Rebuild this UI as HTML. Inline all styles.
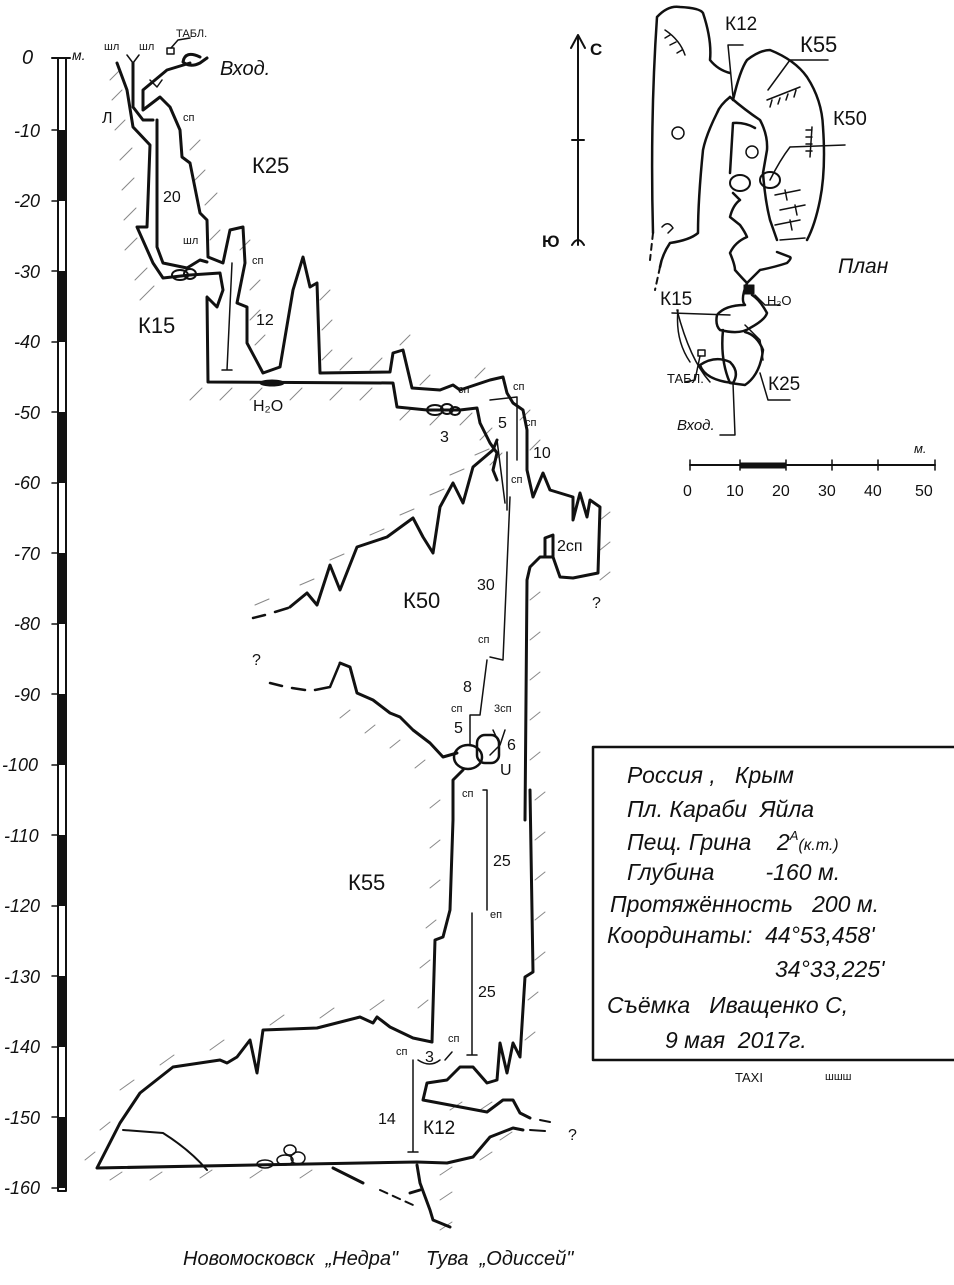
<!DOCTYPE html>
<html><head><meta charset="utf-8"><style>
html,body{margin:0;padding:0;background:#fff}
svg{display:block}
text{font-family:"Liberation Sans",sans-serif;fill:#111;white-space:pre}
.i{font-style:italic}
</style></head><body>
<svg width="954" height="1285" viewBox="0 0 954 1285" xmlns="http://www.w3.org/2000/svg" xml:space="preserve">
<g fill="none" stroke="#111" stroke-linejoin="round" stroke-linecap="round">
<!-- depth scale -->
<rect x="58" y="58" width="8" height="1133" fill="#fff" stroke-width="2"/>
<g fill="#111" stroke="none">
<rect x="58" y="130" width="8" height="71"/><rect x="58" y="271" width="8" height="71"/>
<rect x="58" y="412" width="8" height="71"/><rect x="58" y="553" width="8" height="71"/>
<rect x="58" y="694" width="8" height="71"/><rect x="58" y="835" width="8" height="71"/>
<rect x="58" y="976" width="8" height="71"/><rect x="58" y="1117" width="8" height="71"/>
</g>
<line x1="52" y1="58" x2="70" y2="58" stroke-width="2"/>
<g stroke-width="1.5">
<line x1="52" y1="130" x2="58" y2="130"/><line x1="52" y1="201" x2="58" y2="201"/><line x1="52" y1="271" x2="58" y2="271"/><line x1="52" y1="342" x2="58" y2="342"/><line x1="52" y1="412" x2="58" y2="412"/><line x1="52" y1="483" x2="58" y2="483"/><line x1="52" y1="553" x2="58" y2="553"/><line x1="52" y1="624" x2="58" y2="624"/><line x1="52" y1="694" x2="58" y2="694"/><line x1="52" y1="765" x2="58" y2="765"/><line x1="52" y1="835" x2="58" y2="835"/><line x1="52" y1="906" x2="58" y2="906"/><line x1="52" y1="976" x2="58" y2="976"/><line x1="52" y1="1047" x2="58" y2="1047"/><line x1="52" y1="1117" x2="58" y2="1117"/><line x1="52" y1="1188" x2="58" y2="1188"/>
</g>

<!-- hatching -->
<g stroke="#888" stroke-width="1">
<path d="M110,80 l10,-10 M112,100 l10,-10 M115,130 l10,-10 M120,160 l12,-12 M122,190 l12,-12 M124,220 l12,-12 M125,250 l12,-12 M135,280 l12,-12 M140,300 l14,-14"/>
<path d="M190,150 l10,-10 M195,180 l10,-10 M205,205 l12,-12 M210,240 l10,-10 M240,250 l10,-10 M250,290 l10,-10 M250,320 l10,-10 M255,345 l10,-10 M320,300 l10,-10 M322,330 l10,-10 M322,360 l10,-10 M340,370 l12,-12 M370,370 l12,-12 M400,345 l10,-10 M420,385 l10,-10 M475,378 l10,-10 M520,420 l10,-10 M530,450 l10,-10"/>
<path d="M190,400 l12,-12 M220,400 l12,-12 M250,400 l12,-12 M290,400 l12,-12 M330,400 l12,-12 M360,400 l12,-12 M400,420 l12,-12 M430,425 l12,-12 M460,425 l12,-12 M480,440 l12,-12 M490,465 l12,-12"/>
<path d="M255,605 l14,-6 M300,585 l14,-6 M330,560 l14,-6 M370,535 l14,-6 M400,515 l14,-6 M430,495 l14,-6 M450,475 l14,-6 M475,455 l14,-6"/>
<path d="M530,600 l10,-8 M530,640 l10,-8 M530,680 l10,-8 M530,720 l10,-8 M530,760 l10,-8 M535,800 l10,-8 M535,840 l10,-8 M535,880 l10,-8 M535,920 l10,-8 M535,960 l10,-8 M528,1000 l10,-8 M525,1040 l10,-8 M600,520 l10,-8 M600,550 l10,-8 M600,580 l10,-8"/>
<path d="M350,710 l-10,8 M375,725 l-10,8 M400,740 l-10,8 M425,760 l-10,8 M440,800 l-10,8 M440,840 l-10,8 M440,880 l-10,8 M436,920 l-10,8 M430,960 l-10,8 M428,1000 l-10,8"/>
<path d="M120,1090 l14,-10 M160,1065 l14,-10 M210,1050 l14,-10 M270,1025 l14,-10 M320,1018 l14,-10 M370,1010 l14,-10 M100,1130 l10,-8 M85,1160 l10,-8 M110,1180 l12,-8 M150,1180 l12,-8 M200,1178 l12,-8 M250,1178 l12,-8 M300,1178 l12,-8 M440,1175 l12,-8 M480,1160 l12,-8 M500,1140 l12,-8 M440,1200 l12,-8 M440,1230 l12,-8 M450,1110 l12,-8 M480,1110 l12,-8"/>
</g>

<!-- upper section -->
<g stroke-width="3">
<path d="M117,63 L127,90 L133,127 L150,145 L147,227 L137,227 L153,263 L163,278 L190,275 L220,273 L223,290 L217,307 L207,297 L208,382 L393,383 L397,407 L427,410 L460,410 L477,408 L480,423 L490,443 L497,453 L493,470 L497,480"/>
<path d="M200,57 Q185,50 183,62 Q190,68 200,63 L207,58 M190,63 L167,70 L143,90 L143,110 L160,97 L170,107 L180,130 L182,157 L190,163 L200,213 L207,220 L208,257 L223,263 L230,230 L243,227 L245,263 L237,303 L247,307 L247,343 L263,373 L280,367 L293,290 L303,257 L310,287 L317,283 L320,373 L390,372 L393,353 L403,350 L412,388 L440,390 L453,385 L460,390 L490,380 L503,377 L507,393 L513,403 L523,410 L527,430 L527,457"/>
<path d="M133,63 L133,107 L143,120 L153,120 M157,120 L157,247 L163,263 L187,268 L200,260 L207,262"/>
</g>
<ellipse cx="180" cy="275" rx="8" ry="5" stroke-width="2"/><ellipse cx="190" cy="274" rx="6" ry="5" stroke-width="2"/>
<ellipse cx="272" cy="383" rx="12" ry="3" fill="#111"/>
<ellipse cx="435" cy="410" rx="8" ry="5" stroke-width="2"/><ellipse cx="447" cy="409" rx="6" ry="5" stroke-width="2"/><ellipse cx="455" cy="411" rx="5" ry="4" stroke-width="2"/>
<g stroke-width="1.5">
<path d="M232,263 L227,370 M222,370 L232,370"/>
<path d="M133,63 L127,55 M133,63 L139,55 M157,87 L150,80 M157,87 L162,80"/>
<rect x="167" y="48" width="7" height="6"/><path d="M171,48 L178,40 L190,38"/>
<path d="M490,400 L517,397 L517,460 M507,452 L507,510"/>
<path d="M497,440 L505,503 M510,497 L503,660 L490,657"/>
</g>

<!-- K50 -->
<g stroke-width="3">
<path d="M290,607 L307,593 L317,605 L330,565 L340,590 L357,547 L387,537 L413,518 L423,537 L433,553 L440,507 L453,483 L463,503 L473,467 L493,450 L497,440"/>
<path d="M253,618 L265,615 M275,612 L288,608" stroke-width="2.5"/>
<path d="M527,440 L527,470 L533,497 L543,473 L550,490 L573,497 L573,520 L580,493 L587,517 L590,500 L600,507 L598,573 L573,578 L560,577 L553,557 L540,557 L530,567 L527,580 L525,820"/>
<path d="M545,557 L545,538 L553,535 L553,557"/>
<path d="M340,663 L350,667 L357,693 L373,700 L390,713 L400,717 L413,730 L430,743 L443,757 L457,753"/>
<path d="M330,687 L340,663 M270,683 L282,686 M292,688 L305,690 M315,690 L330,687" stroke-width="2.5"/>
<path d="M463,770 L453,780 L453,820 L450,910 L443,937 L435,940 L432,1042"/>
</g>
<ellipse cx="468" cy="757" rx="14" ry="12" stroke-width="2.5"/>
<rect x="477" y="735" width="22" height="28" rx="8" stroke-width="2.5"/>
<g stroke-width="1.5">
<path d="M470,745 L470,715 L480,715 M480,715 L487,660"/>
<path d="M493,730 L500,745 L490,755 M500,745 L505,730"/>
<path d="M483,790 L487,790 L487,910 M472,913 L472,1055 M467,1055 L477,1055"/>
</g>

<!-- K55 bottom -->
<g stroke-width="3">
<path d="M530,790 L533,972 L525,977 L520,1057 L513,1043 L507,1073 L500,1043 L497,1080 L487,1083 L473,1067 L460,1067 L447,1080 L427,1083 L423,1100 L487,1112 L503,1100 L513,1100 L520,1113 L530,1118"/>
<path d="M432,1042 L413,1038 L390,1027 L377,1017 L373,1023 L360,1017 L317,1028 L263,1030 L257,1073 L250,1040 L237,1057 L227,1063 L220,1060 L173,1067 L140,1093 L120,1123 L97,1168 L417,1162 L447,1163 L473,1157 L490,1137 L513,1128 L523,1130"/>
<path d="M333,1168 L363,1183 M417,1165 L420,1183 L430,1210 L433,1220 L450,1227 M410,1193 L420,1190"/>
</g>
<path d="M380,1190 L413,1205" stroke-width="2" stroke-dasharray="8,6"/>
<path d="M530,1130 L545,1131 M540,1120 L550,1122" stroke-width="2"/>
<path d="M123,1130 L163,1133 Q190,1150 207,1170" stroke-width="2"/>
<g stroke-width="1.5">
<ellipse cx="265" cy="1164" rx="8" ry="4"/><ellipse cx="285" cy="1160" rx="8" ry="5"/><ellipse cx="298" cy="1158" rx="7" ry="6"/><ellipse cx="290" cy="1150" rx="6" ry="5"/>
<path d="M413,1060 L413,1152 M408,1152 L418,1152"/>
<path d="M418,1060 Q430,1068 440,1060 M445,1060 L452,1052"/>
</g>

<!-- north arrow -->
<path d="M578,35 L578,245 M572,140 L584,140 M571,48 L578,35 L585,48 M572,245 Q578,235 584,245" stroke-width="2"/>

<!-- plan -->
<g stroke-width="2.5">
<path d="M653,233 Q650,120 657,17 Q668,5 680,7 Q700,8 703,13 Q712,40 710,60 Q718,70 730,73"/>
<path d="M730,97 Q720,105 717,113 Q706,135 703,150 Q698,200 698,233 Q690,240 670,243 Q662,255 660,267"/>
<path d="M733,100 Q740,70 747,60 Q760,50 770,50 Q795,60 807,77 Q822,100 823,127 Q826,170 820,200 Q815,225 807,240"/>
<path d="M730,97 Q745,110 760,120 Q768,135 767,150 L763,173 Q765,200 770,220 L777,240 M730,173 L733,123 Q745,122 755,128"/>
<path d="M733,193 L740,200 Q733,205 730,217 L740,225 Q745,232 747,237 Q735,242 730,253 Q735,265 735,270 Q742,278 747,283 L760,270 Q775,267 787,263 Q792,258 790,257 L777,252"/>
<path d="M747,283 Q740,300 745,305 Q725,305 717,315 Q715,325 720,330 Q740,335 750,328 Q765,320 767,313 Q760,300 752,295"/>
<path d="M723,330 Q720,360 730,383 L745,385 Q760,375 763,350 Q757,335 745,332"/>
<path d="M700,365 Q705,380 733,383 Q740,372 730,362 Q715,355 700,365"/>
</g>
<path d="M653,233 L650,260 M660,267 L655,290" stroke-width="2" stroke-dasharray="6,5"/>
<ellipse cx="740" cy="183" rx="10" ry="8" stroke-width="2"/><ellipse cx="770" cy="180" rx="10" ry="8" stroke-width="2"/>
<rect x="744" y="285" width="10" height="9" fill="#111"/>
<g stroke-width="1.5">
<path d="M677,310 Q690,360 710,382"/>
<path d="M678,310 Q675,340 690,362 M745,325 L760,340 L763,360"/>
<rect x="698" y="350" width="7" height="6"/>
<path d="M790,147 L845,145 M790,147 Q780,160 770,180 M768,90 L790,60 L828,60 M733,97 L728,45 L743,45 M730,315 L672,313 M760,373 L768,400 L790,400 M733,383 L735,435 L720,435 M700,356 L695,380 L685,382 M755,295 L765,305 L780,305"/>
<path d="M767,100 L800,87 M770,107 L772,100 M778,104 L780,98 M786,100 L788,94 M794,97 L796,90"/>
<path d="M812,127 L810,157 M806,130 L812,130 M806,137 L812,137 M806,144 L812,144 M806,151 L812,151"/>
<path d="M775,195 L800,190 M780,210 L805,205 M775,225 L800,220 M780,240 L805,238 M785,190 L787,200 M795,205 L797,215 M790,220 L792,230"/>
<path d="M665,30 Q680,40 685,55 M670,35 L665,38 M676,42 L670,45 M682,50 L677,53"/>
<circle cx="678" cy="133" r="6"/><circle cx="752" cy="152" r="6"/>
<path d="M662,227 Q668,220 673,228 L668,233"/>
</g>
<path d="M690,465 L935,465" stroke-width="2"/>
<rect x="740" y="463" width="46" height="5" fill="#111"/>
<path d="M690,460 L690,470 M740,460 L740,470 M786,460 L786,470 M832,460 L832,470 M878,460 L878,470 M935,460 L935,470" stroke-width="1.5"/>

<path d="M593,747 L954,747 M593,747 L593,1060 L954,1060" stroke-width="2.5"/>
</g>

<g class="i" font-size="18">
<text x="22" y="64" font-size="20">0</text><text x="72" y="60" font-size="14">м.</text>
<text x="14" y="137">-10</text><text x="14" y="207">-20</text><text x="14" y="278">-30</text><text x="14" y="348">-40</text><text x="14" y="419">-50</text><text x="14" y="489">-60</text><text x="14" y="560">-70</text><text x="14" y="630">-80</text><text x="14" y="701">-90</text><text x="2" y="771">-100</text><text x="4" y="842">-110</text><text x="4" y="912">-120</text><text x="4" y="983">-130</text><text x="4" y="1053">-140</text><text x="4" y="1124">-150</text><text x="4" y="1194">-160</text>
</g>
<g font-size="11">
<text x="104" y="50">шл</text><text x="139" y="50">шл</text><text x="176" y="37">ТАБЛ.</text>
<text x="183" y="121">сп</text><text x="183" y="244">шл</text><text x="252" y="264">сп</text>
<text x="458" y="393">сп</text><text x="513" y="390">сп</text><text x="525" y="426">сп</text><text x="511" y="483">сп</text>
<text x="478" y="643">сп</text><text x="451" y="712">сп</text><text x="494" y="712">3сп</text><text x="462" y="797">сп</text><text x="490" y="918">еп</text>
<text x="396" y="1055">сп</text><text x="448" y="1042">сп</text>
</g>
<g font-size="16">
<text x="102" y="123">Л</text><text x="163" y="202">20</text><text x="256" y="325">12</text><text x="253" y="411">H₂O</text>
<text x="440" y="442">3</text><text x="498" y="428">5</text><text x="533" y="458">10</text><text x="477" y="590">30</text><text x="557" y="551">2сп</text>
<text x="463" y="692">8</text><text x="454" y="733">5</text><text x="507" y="750">6</text><text x="500" y="775">U</text>
<text x="493" y="866">25</text><text x="478" y="997">25</text><text x="425" y="1062">3</text><text x="378" y="1124">14</text>
<text x="252" y="665">?</text><text x="592" y="608">?</text><text x="568" y="1140">?</text>
</g>
<g font-size="22">
<text x="252" y="173">К25</text><text x="138" y="333">К15</text><text x="403" y="608">К50</text><text x="348" y="890">К55</text><text x="423" y="1134" font-size="19">К12</text>
<text x="220" y="75" class="i" font-size="20">Вход.</text>
<text x="725" y="30" font-size="19">К12</text><text x="800" y="52">К55</text><text x="833" y="125" font-size="20">К50</text>
<text x="660" y="305" font-size="19">К15</text><text x="768" y="390" font-size="19">К25</text>
<text x="838" y="273" class="i" font-size="21">План</text>
</g>
<g font-size="13">
<text x="767" y="305">H₂O</text><text x="667" y="383">ТАБЛ.</text><text x="677" y="430" class="i" font-size="15">Вход.</text>
<text x="590" y="55" font-size="17" font-weight="bold">С</text><text x="542" y="247" font-size="17" font-weight="bold">Ю</text>
<text x="683" y="496" font-size="16">0</text><text x="726" y="496" font-size="16">10</text><text x="772" y="496" font-size="16">20</text><text x="818" y="496" font-size="16">30</text><text x="864" y="496" font-size="16">40</text><text x="915" y="496" font-size="16">50</text>
<text x="914" y="453" class="i">м.</text>
</g>
<g class="i" font-size="23">
<text x="627" y="783">Россия ,   Крым</text>
<text x="627" y="817">Пл. Караби  Яйла</text>
<text x="627" y="850">Пещ. Грина    2<tspan font-size="13" dy="-10">А</tspan><tspan font-size="16" dy="10">(к.т.)</tspan></text>
<text x="627" y="880">Глубина        -160 м.</text>
<text x="610" y="912">Протяжённость   200 м.</text>
<text x="607" y="943">Координаты:  44°53,458'</text>
<text x="775" y="977">34°33,225'</text>
<text x="607" y="1013">Съёмка   Иващенко С,</text>
<text x="665" y="1048">9 мая  2017г.</text>
</g>
<text x="735" y="1082" font-size="13">TAXI</text><text x="825" y="1080" font-size="11">шшш</text>
<text x="183" y="1265" class="i" font-size="20">Новомосковск  „Недра"     Тува  „Одиссей"</text>
</svg>
</body></html>
